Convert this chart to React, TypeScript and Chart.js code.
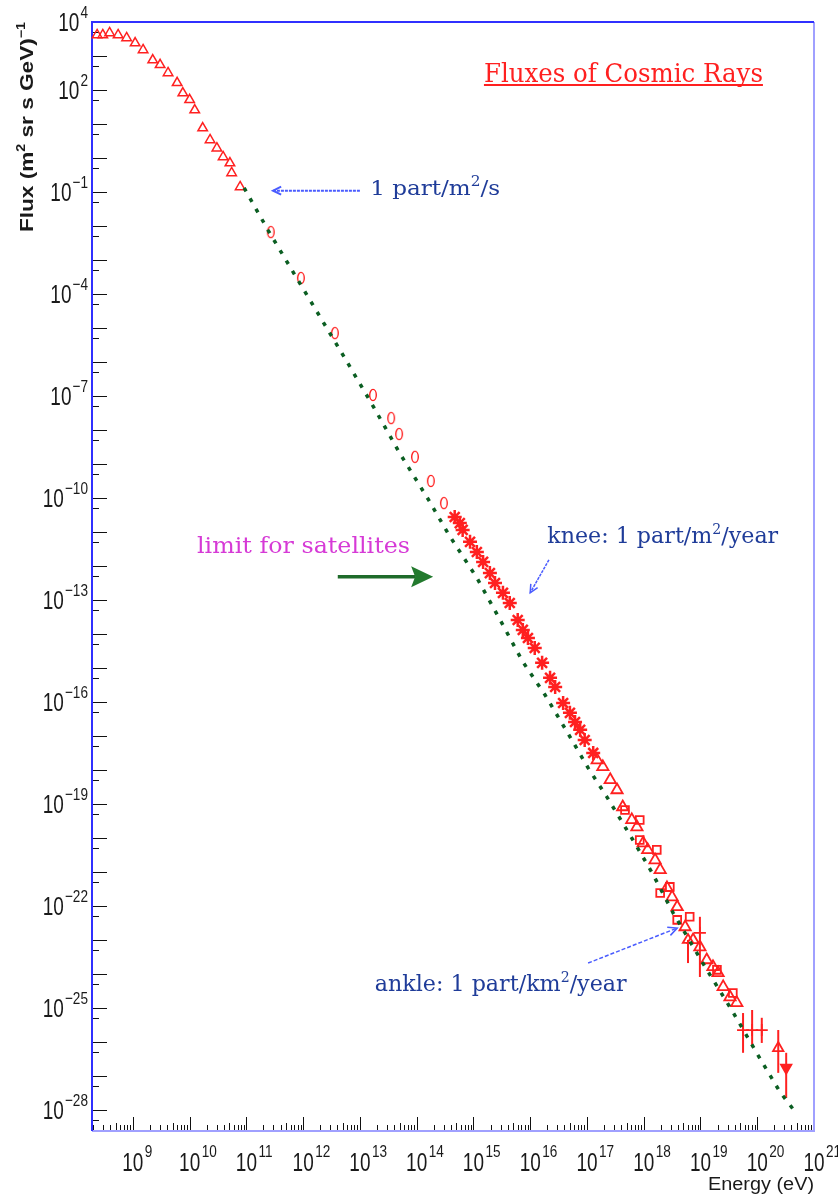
import React, { useEffect, useRef } from 'react';
import { Chart, registerables } from 'chart.js';
Chart.register(...registerables);

// All values are log10(energy / eV) and log10(flux / (m^2 sr s GeV)^-1)
const triE = [8.37, 8.47, 8.59, 8.74, 8.89, 9.04, 9.18, 9.35, 9.48, 9.62, 9.78, 9.88, 10.0, 10.09, 10.23, 10.36, 10.48, 10.59, 10.71, 10.74, 10.89];
const triF = [3.62, 3.62, 3.68, 3.62, 3.53, 3.38, 3.18, 2.88, 2.74, 2.5, 2.21, 1.91, 1.71, 1.41, 0.88, 0.53, 0.29, 0.03, -0.15, -0.44, -0.85];

const ovalE = [11.43, 11.96, 12.56, 13.23, 13.55, 13.69, 13.97, 14.25, 14.48];
const ovalF = [-2.18, -3.53, -5.15, -6.97, -7.65, -8.12, -8.79, -9.5, -10.15];

const starE = [14.67, 14.76, 14.81, 14.94, 15.06, 15.17, 15.29, 15.38, 15.52, 15.64, 15.78, 15.87, 15.96, 16.08, 16.21, 16.35, 16.44, 16.58, 16.70, 16.79, 16.88, 16.96, 17.11];
const starF = [-10.56, -10.74, -10.94, -11.29, -11.59, -11.88, -12.21, -12.50, -12.79, -13.09, -13.59, -13.88, -14.12, -14.41, -14.85, -15.29, -15.56, -16.03, -16.32, -16.59, -16.82, -17.12, -17.50];

const bandE = [17.18, 17.28, 17.41, 17.53, 17.63, 17.79, 17.88, 17.99, 18.07, 18.20, 18.29, 18.41, 18.50, 18.59, 18.73, 18.87, 18.99, 19.11, 19.22, 19.31, 19.40, 19.52, 19.64];
const bandF = [-17.71, -17.91, -18.29, -18.59, -19.09, -19.47, -19.68, -20.15, -20.35, -20.65, -20.94, -21.47, -21.74, -22.03, -22.62, -23.0, -23.21, -23.59, -23.79, -23.97, -24.38, -24.68, -24.85];

const crossE = [17.67, 17.93, 18.29, 18.59, 17.93, 18.23, 18.46, 18.81, 19.29, 19.57];
const crossF = [-19.18, -20.06, -21.62, -22.41, -19.47, -20.35, -21.44, -22.32, -23.88, -24.56];

const errE = [18.78, 18.99, 19.75, 19.91, 20.08, 20.37, 20.51];
const errF = [-23.0, -22.79, -25.65, -25.65, -25.65, -26.18, -26.76];
const errHi = [-23.0, -22.32, -25.15, -25.06, -25.29, -25.65, -26.32];
const errLo = [-23.68, -24.09, -26.32, -26.15, -26.03, -26.91, -27.65];

const fitE = [10.96, 11.38, 11.75, 12.12, 12.70, 13.25, 13.70, 14.20, 14.57, 15.06, 15.52, 15.87, 16.26, 16.65, 17.02, 17.35, 17.81, 18.15, 18.52, 19.08, 19.55, 20.01, 20.40, 20.67];
const fitF = [-0.88, -2.12, -3.15, -4.18, -5.79, -7.35, -8.68, -10.03, -11.09, -12.35, -13.74, -14.82, -15.79, -16.88, -17.94, -18.79, -20.06, -21.03, -22.21, -23.79, -25.06, -26.38, -27.47, -28.06];

const yLabelExps = [4, 2, -1, -4, -7, -10, -13, -16, -19, -22, -25, -28];
const xLabelExps = [9, 10, 11, 12, 13, 14, 15, 16, 17, 18, 19, 20, 21];

const E_MIN = 8.28, E_MAX = 21, F_MIN = -28.62, F_MAX = 4;

const RED = '#ff2020';
const GREEN = '#0b5e22';
const NAVY = '#1f3c99';
const ARROW_BLUE = '#4a5cff';

type Seg = { t: string; sup?: boolean };

function pts(e: number[], f: number[]) {
  return e.map((v, i) => ({ x: Math.pow(10, v), y: Math.pow(10, f[i]) }));
}

function drawRich(ctx: CanvasRenderingContext2D, segs: Seg[], x: number, y: number, size: number, family: string, weight: string, color: string, width?: number, align: string = 'left') {
  ctx.save();
  const supSize = Math.round(size * 0.65);
  const fontN = `${weight} ${size}px ${family}`;
  const fontS = `${weight} ${supSize}px ${family}`;
  let w = 0;
  const ws = segs.map(s => { ctx.font = s.sup ? fontS : fontN; const m = ctx.measureText(s.t).width; w += m; return m; });
  const sx = width ? width / w : 1;
  ctx.translate(x, y);
  ctx.scale(sx, 1);
  let cx = align === 'center' ? -w / 2 : align === 'right' ? -w : 0;
  ctx.fillStyle = color;
  ctx.textBaseline = 'alphabetic';
  ctx.textAlign = 'left';
  segs.forEach((s, i) => {
    ctx.font = s.sup ? fontS : fontN;
    ctx.fillText(s.t, cx, s.sup ? -size * 0.42 : 0);
    cx += ws[i];
  });
  ctx.restore();
  return w * sx;
}

function arrowV(ctx: CanvasRenderingContext2D, x1: number, y1: number, x2: number, y2: number, color: string, lw: number, head: number, dash: number[]) {
  ctx.save();
  ctx.strokeStyle = color; ctx.lineWidth = lw; ctx.setLineDash(dash);
  ctx.beginPath(); ctx.moveTo(x1, y1); ctx.lineTo(x2, y2); ctx.stroke();
  ctx.setLineDash([]);
  const a = Math.atan2(y2 - y1, x2 - x1);
  ctx.beginPath();
  ctx.moveTo(x2 - head * Math.cos(a - 0.45), y2 - head * Math.sin(a - 0.45));
  ctx.lineTo(x2, y2);
  ctx.lineTo(x2 - head * Math.cos(a + 0.45), y2 - head * Math.sin(a + 0.45));
  ctx.stroke();
  ctx.restore();
}

function makeOval() {
  const c = document.createElement('canvas');
  c.width = 10; c.height = 14;
  const g = c.getContext('2d')!;
  g.strokeStyle = RED; g.lineWidth = 1.4;
  g.beginPath(); g.ellipse(5, 7, 3.3, 5.6, 0, 0, Math.PI * 2); g.stroke();
  return c;
}

export default function App() {
  const ref = useRef<HTMLCanvasElement | null>(null);
  useEffect(() => {
    const canvas = ref.current!;
    const oval = makeOval();
    const P = (c: any) => ({
      ex: (e: number) => c.scales.x.getPixelForValue(Math.pow(10, e)),
      fy: (f: number) => c.scales.y.getPixelForValue(Math.pow(10, f)),
    });

    const frame = {
      id: 'frame',
      beforeDatasetsDraw(c: any) {
        const ctx = c.ctx as CanvasRenderingContext2D;
        const a = c.chartArea;
        const { ex, fy } = P(c);
        ctx.save();
        ctx.strokeStyle = '#111'; ctx.lineWidth = 1;
        for (let n = Math.floor(F_MIN); n <= F_MAX; n++) {
          if (n >= F_MIN && n <= F_MAX) {
            const yMaj = Math.round(fy(n)) + 0.5;
            ctx.beginPath(); ctx.moveTo(a.left, yMaj); ctx.lineTo(a.left + 15, yMaj); ctx.stroke();
          }
          const m = n + Math.log10(5);
          if (m > F_MIN && m < F_MAX) {
            const yMin = Math.round(fy(m)) + 0.5;
            ctx.beginPath(); ctx.moveTo(a.left, yMin); ctx.lineTo(a.left + 7, yMin); ctx.stroke();
          }
        }
        for (let d = 8; d <= 20; d++) {
          for (let k = 1; k <= 9; k++) {
            const v = d + Math.log10(k);
            if (v < E_MIN || v > E_MAX) continue;
            const x = Math.round(ex(v)) + 0.5;
            const len = k === 1 ? 14 : (k === 5 ? 8 : 6);
            ctx.beginPath(); ctx.moveTo(x, a.bottom); ctx.lineTo(x, a.bottom - len); ctx.stroke();
          }
        }
        {
          const x = Math.round(ex(21)) - 0.5;
          ctx.beginPath(); ctx.moveTo(x, a.bottom); ctx.lineTo(x, a.bottom - 14); ctx.stroke();
        }
        ctx.strokeStyle = '#a0a0ff'; ctx.lineWidth = 2;
        ctx.beginPath(); ctx.moveTo(a.left, a.bottom); ctx.lineTo(a.right, a.bottom); ctx.lineTo(a.right, a.top); ctx.stroke();
        ctx.strokeStyle = '#3030ff'; ctx.lineWidth = 2;
        ctx.beginPath(); ctx.moveTo(a.left, a.bottom); ctx.lineTo(a.left, a.top); ctx.lineTo(a.right, a.top); ctx.stroke();

        ctx.strokeStyle = RED; ctx.lineWidth = 2;
        errE.forEach((e, i) => {
          const x = ex(e);
          ctx.beginPath(); ctx.moveTo(x, fy(errHi[i])); ctx.lineTo(x, fy(errLo[i])); ctx.stroke();
        });
        ctx.restore();
      },
      afterDatasetsDraw(c: any) {
        const ctx = c.ctx as CanvasRenderingContext2D;
        const a = c.chartArea;
        const { ex, fy } = P(c);
        const SANS = '"Liberation Sans", Arial, sans-serif';
        const SERIF = '"DejaVu Serif", serif';
        const f10 = `normal 25px ${SANS}`;
        const fExp = `normal 17px ${SANS}`;
        const s10 = 0.76, sExp = 0.8;
        const drawScaled = (t: string, font: string, sx: number, x: number, y: number, align: string) => {
          ctx.save();
          ctx.font = font; ctx.fillStyle = '#1a1a1a'; ctx.textBaseline = 'alphabetic'; ctx.textAlign = 'left';
          const w = ctx.measureText(t).width * sx;
          const x0 = align === 'right' ? x - w : align === 'center' ? x - w / 2 : x;
          ctx.translate(x0, y); ctx.scale(sx, 1); ctx.fillText(t, 0, 0);
          ctx.restore();
          return w;
        };
        yLabelExps.forEach(n => {
          const py = fy(n);
          const es = n < 0 ? '\u2212' + Math.abs(n) : String(n);
          const R = a.left - 4;
          const we = drawScaled(es, fExp, sExp, R, py - 4, 'right');
          drawScaled('10', f10, s10, R - we - 1, py + 9, 'right');
        });
        xLabelExps.forEach(n => {
          const px = ex(n);
          drawScaled('10', f10, s10, px, 1171, 'center');
          drawScaled(String(n), fExp, sExp, px + 12, 1157, 'left');
        });

        ctx.save();
        ctx.translate(26, 232);
        ctx.rotate(-Math.PI / 2);
        drawRich(ctx, [{ t: 'Flux (m' }, { t: '2', sup: true }, { t: ' sr s GeV)' }, { t: '\u22121', sup: true }], 0, 7, 19, SANS, 'bold', '#1a1a1a', 210);
        ctx.restore();
        drawRich(ctx, [{ t: 'Energy (eV)' }], 708, 1190, 18, SANS, 'normal', '#1a1a1a', 106);

        const tw = drawRich(ctx, [{ t: 'Fluxes of Cosmic Rays' }], ex(15.185), fy(2.235), 26, SERIF, 'normal', RED, 279);
        ctx.save();
        ctx.strokeStyle = RED; ctx.lineWidth = 2;
        ctx.beginPath(); ctx.moveTo(ex(15.185), fy(2.235) + 3); ctx.lineTo(ex(15.185) + tw, fy(2.235) + 3); ctx.stroke();
        ctx.restore();

        drawRich(ctx, [{ t: '1 part/m' }, { t: '2', sup: true }, { t: '/s' }], ex(13.18), fy(-1.09), 21, SERIF, 'normal', NAVY, 130);
        arrowV(ctx, ex(13.0), fy(-0.96), ex(11.47), fy(-0.96), ARROW_BLUE, 2, 9, [3, 1]);

        drawRich(ctx, [{ t: 'knee: 1 part/m' }, { t: '2', sup: true }, { t: '/year' }], ex(16.30), fy(-11.32), 22, SERIF, 'normal', NAVY, 231);
        arrowV(ctx, ex(16.33), fy(-11.82), ex(16.0), fy(-12.79), ARROW_BLUE, 1.5, 9, [3, 1]);

        drawRich(ctx, [{ t: 'ankle: 1 part/km' }, { t: '2', sup: true }, { t: '/year' }], ex(13.26), fy(-24.5), 22, SERIF, 'normal', NAVY, 252);
        arrowV(ctx, ex(17.02), fy(-23.68), ex(18.59), fy(-22.65), ARROW_BLUE, 1.5, 10, [4, 2]);

        drawRich(ctx, [{ t: 'limit for satellites' }], ex(10.13), fy(-11.62), 22, SERIF, 'normal', '#d63ad6', 213);

        ctx.save();
        const gx1 = ex(12.61), gx2 = ex(14.29), gy = fy(-12.32);
        ctx.strokeStyle = '#1f6b2a'; ctx.lineWidth = 3.5;
        ctx.beginPath(); ctx.moveTo(gx1, gy); ctx.lineTo(gx2 - 18, gy); ctx.stroke();
        ctx.fillStyle = '#237a2e';
        ctx.beginPath(); ctx.moveTo(gx2, gy); ctx.lineTo(gx2 - 22, gy - 10.5); ctx.lineTo(gx2 - 18, gy); ctx.lineTo(gx2 - 22, gy + 10.5); ctx.closePath(); ctx.fill();
        ctx.restore();
      },
    };

    const chart = new Chart(canvas, {
      type: 'scatter',
      data: {
        datasets: [
          {
            label: 'fit', data: pts(fitE, fitF), showLine: true, borderColor: GREEN, borderWidth: 3.5,
            borderDash: [4, 8], pointRadius: 0, fill: false, clip: false as any,
          } as any,
          {
            label: 'low', data: pts(triE, triF), pointStyle: 'triangle', pointRadius: 5.5,
            borderColor: RED, backgroundColor: 'rgba(0,0,0,0)', pointBorderWidth: 1.5, clip: false as any,
          } as any,
          {
            label: 'direct', data: pts(ovalE, ovalF), pointStyle: oval, pointRadius: 6,
            borderColor: RED, backgroundColor: 'rgba(0,0,0,0)', clip: false as any,
          } as any,
          {
            label: 'knee', data: pts(starE, starF), pointStyle: 'star', pointRadius: 7,
            borderColor: RED, backgroundColor: RED, pointBorderWidth: 2.5, clip: false as any,
          } as any,
          {
            label: 'band', data: pts(bandE, bandF), pointStyle: 'triangle', pointRadius: 6.5,
            borderColor: RED, backgroundColor: 'rgba(0,0,0,0)', pointBorderWidth: 1.8, clip: false as any,
          } as any,
          {
            label: 'band2', data: pts(crossE, crossF), pointStyle: 'rect', pointRadius: 5.5,
            borderColor: RED, backgroundColor: 'rgba(0,0,0,0)', pointBorderWidth: 1.8, clip: false as any,
          } as any,
          {
            label: 'uhe', data: pts(errE, errF),
            pointStyle: ['triangle', 'cross', 'cross', 'cross', 'cross', 'triangle', 'triangle'],
            rotation: [0, 0, 0, 0, 0, 0, 180],
            pointRadius: 6, borderColor: RED,
            backgroundColor: ['rgba(0,0,0,0)', RED, RED, RED, RED, 'rgba(0,0,0,0)', RED],
            pointBorderWidth: 1.8, clip: false as any,
          } as any,
        ],
      },
      options: {
        responsive: false,
        animation: false,
        devicePixelRatio: 1,
        events: [],
        layout: { padding: { left: 92, top: 22, right: 24, bottom: 63 } },
        plugins: { legend: { display: false }, tooltip: { enabled: false }, title: { display: false } },
        scales: {
          x: { type: 'logarithmic', min: Math.pow(10, E_MIN), max: Math.pow(10, E_MAX), display: false },
          y: { type: 'logarithmic', min: Math.pow(10, F_MIN), max: Math.pow(10, F_MAX), display: false },
        },
      } as any,
      plugins: [frame],
    });
    return () => chart.destroy();
  }, []);

  return (
    <div style={{ position: 'absolute', left: 0, top: 0, width: 838, height: 1194, background: '#fff' }}>
      <canvas ref={ref} width={838} height={1194} style={{ display: 'block', width: 838, height: 1194 }} />
    </div>
  );
}
